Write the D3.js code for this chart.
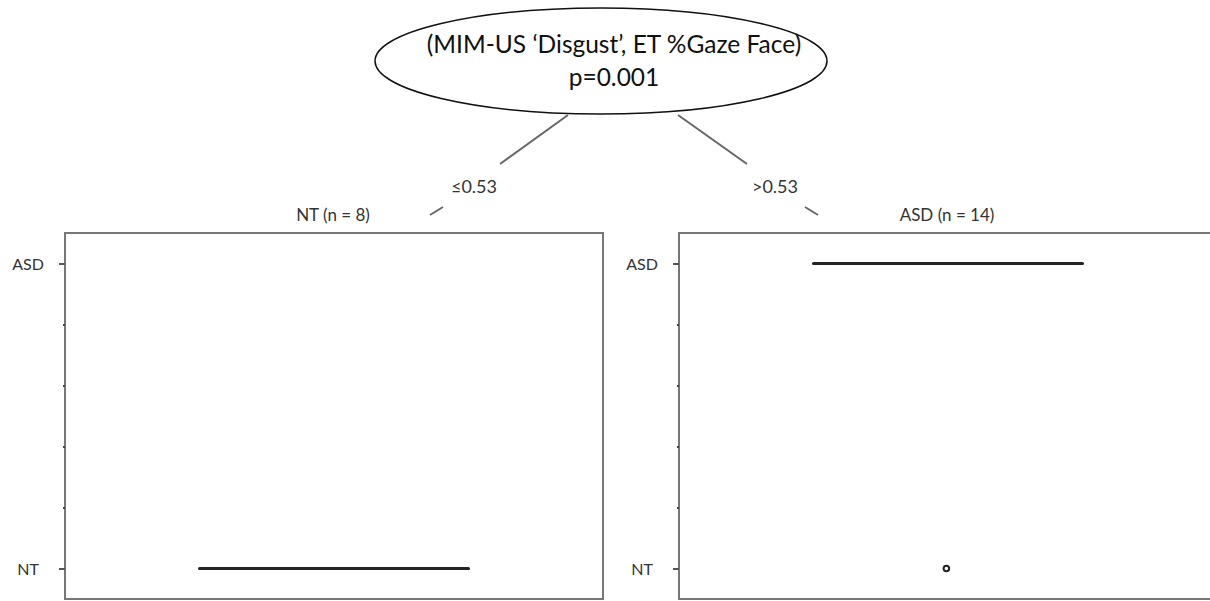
<!DOCTYPE html>
<html>
<head>
<meta charset="utf-8">
<script src="https://cdn.jsdelivr.net/npm/d3@7"></script>
<style>
  body { margin: 0; background: #fff; }
  svg { font-family: Lato, "Open Sans", sans-serif; }
</style>
</head>
<body>
<svg width="1210" height="601"></svg>
<script>
// split node
var splitTitle = ["(MIM-US \u2018Disgust\u2019, ET %Gaze Face)", "p=0.001"];
var edgeLabels = ["\u22640.53", ">0.53"];

// terminal nodes
var nodeNames = ["NT", "ASD"];
var nodeN = [8, 14];
var classes = ["NT", "ASD"];          // y axis categories, bottom to top
var classValue = [0, 1];
var boxLow = [0.25, 0.25];            // box extent on x, fraction of panel
var boxHigh = [0.75, 0.75];
var boxValue = [0, 1];                // box collapsed at this class value
var outlierX = [[], [0.497]];
var outlierY = [[], [0]];
var minorTicks = [0.2, 0.4, 0.6, 0.8];

var width = 1210;
var height = 601;

var svg = d3.select("svg")
  .attr("width", width)
  .attr("height", height);

// title node
var node = svg.append("g");
node.append("ellipse")
  .attr("cx", 601)
  .attr("cy", 61)
  .attr("rx", 226)
  .attr("ry", 53)
  .attr("fill", "#fff")
  .attr("stroke", "#111")
  .attr("stroke-width", 1.5);

node.selectAll("text")
  .data(splitTitle).enter()
  .append("text")
  .attr("x", 614)
  .attr("y", function (d, i) { return 53 + i * 33; })
  .attr("text-anchor", "middle")
  .attr("font-size", 24.5)
  .attr("fill", "#111")
  .text(function (d) { return d; });

// edges
var edges = [
  { a: [568, 115], b: [500, 164], c: [443, 207], d: [430, 215], lx: 474, ly: 193 },
  { a: [678, 115], b: [747, 164], c: [805, 207], d: [818, 215], lx: 775, ly: 193 }
];
var eg = svg.append("g");
edges.forEach(function (e, i) {
  eg.append("line").attr("x1", e.a[0]).attr("y1", e.a[1]).attr("x2", e.b[0]).attr("y2", e.b[1]);
  eg.append("line").attr("x1", e.c[0]).attr("y1", e.c[1]).attr("x2", e.d[0]).attr("y2", e.d[1]);
  eg.append("text")
    .attr("x", e.lx)
    .attr("y", e.ly)
    .attr("text-anchor", "middle")
    .attr("font-size", 18)
    .attr("fill", "#333")
    .text(edgeLabels[i]);
});
eg.selectAll("line").attr("stroke", "#666").attr("stroke-width", 2);

// panels
var panelLeft = [65, 679];
var panelW = 538;
var panelTop = 233;
var panelBottom = 599;

var y = d3.scaleLinear()
  .domain([-0.1, 1.1])
  .range([panelBottom, panelTop]);

nodeNames.forEach(function (name, i) {
  var x = d3.scaleLinear()
    .domain([0, 1])
    .range([panelLeft[i], panelLeft[i] + panelW]);

  var g = svg.append("g");

  g.append("text")
    .attr("x", x(0.5) - 1)
    .attr("y", panelTop - 12)
    .attr("text-anchor", "middle")
    .attr("font-size", 17)
    .attr("fill", "#333")
    .text(name + " (n = " + nodeN[i] + ")");

  g.append("rect")
    .attr("x", x(0))
    .attr("y", panelTop)
    .attr("width", panelW)
    .attr("height", panelBottom - panelTop)
    .attr("fill", "none")
    .attr("stroke", "#777")
    .attr("stroke-width", 2);

  var axis = g.append("g")
    .attr("transform", "translate(" + x(0) + ",0)")
    .call(d3.axisLeft(y)
      .tickValues(classValue)
      .tickSize(6)
      .tickPadding(14)
      .tickFormat(function (d) { return classes[classValue.indexOf(d)]; }));
  axis.select(".domain").remove();
  axis.selectAll("line").attr("stroke", "#555").attr("stroke-width", 2);
  axis.selectAll("text")
    .attr("font-family", "Lato, sans-serif")
    .attr("font-size", 16)
    .attr("fill", "#333")
    .attr("text-anchor", "middle")
    .attr("dx", -17)
    .attr("dy", "0.35em");

  var minor = g.append("g")
    .attr("transform", "translate(" + x(0) + ",0)")
    .call(d3.axisLeft(y).tickValues(minorTicks).tickSize(2).tickFormat(""));
  minor.select(".domain").remove();
  minor.selectAll("line").attr("stroke", "#444").attr("stroke-width", 2);

  g.append("line")
    .attr("x1", x(boxLow[i]))
    .attr("x2", x(boxHigh[i]))
    .attr("y1", y(boxValue[i]))
    .attr("y2", y(boxValue[i]))
    .attr("stroke", "#222")
    .attr("stroke-width", 3)
    .attr("stroke-linecap", "round");

  g.selectAll("circle")
    .data(outlierX[i]).enter()
    .append("circle")
    .attr("cx", function (d) { return x(d); })
    .attr("cy", function (d, j) { return y(outlierY[i][j]); })
    .attr("r", 2.8)
    .attr("fill", "#fff")
    .attr("stroke", "#222")
    .attr("stroke-width", 2);
});
</script>
</body>
</html>
